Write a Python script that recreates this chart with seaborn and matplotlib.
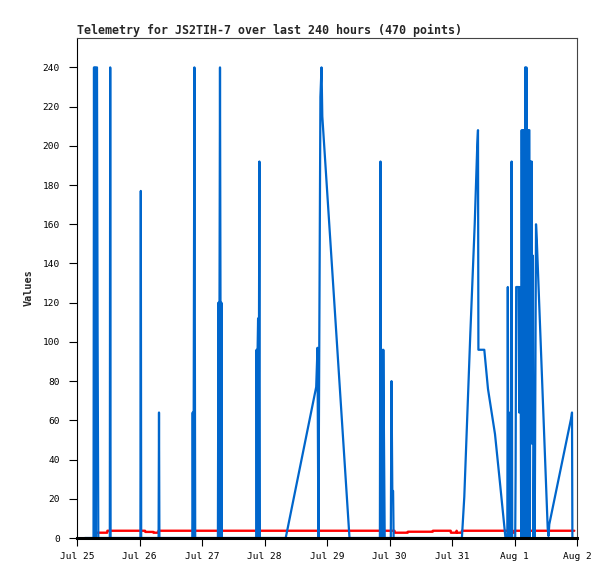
import matplotlib
matplotlib.use("Agg")
import matplotlib.pyplot as plt
import seaborn as sns
import pandas as pd

# ---- data (hours since Jul 25 00:00) ----
blue_hours = [3.0, 6.34, 6.53, 6.76, 6.99, 7.22, 7.45, 7.68, 7.91, 8.18,
              12.60, 12.75, 12.90,
              24.35, 24.50, 24.65,
              31.33, 31.49, 31.64,
              44.28, 44.43, 44.62, 44.81, 45.08, 45.39,
              54.11, 54.30, 54.53, 54.72, 54.91, 55.10, 55.30, 55.45, 55.60,
              68.81, 68.97, 69.16, 69.35, 69.54, 69.74, 69.89, 70.04, 70.23,
              80.14, 91.85, 92.35, 92.70, 93.08, 93.47, 93.89, 94.20, 104.64,
              116.31, 116.54, 116.81, 117.08, 117.35, 117.62, 117.89, 118.16,
              120.50, 120.77, 121.08, 121.38, 121.58,
              147.80, 148.72, 151.03, 152.72, 153.72, 153.98, 154.14, 156.40,
              157.82, 160.51, 162.43, 164.54,
              165.24, 165.43, 165.66, 165.85, 166.04,
              166.66, 166.89, 167.12,
              168.27, 168.42, 168.65, 169.54, 169.80, 170.07, 170.34,
              170.57, 170.76, 171.00, 171.23, 171.46, 171.69, 171.88,
              172.11, 172.34, 172.57, 172.80, 173.03, 173.26, 173.49, 173.72,
              173.91, 174.14, 174.37, 174.60, 174.83, 175.06, 175.30, 175.53,
              175.76, 176.26, 176.56, 180.75, 181.06, 181.36, 189.89, 190.08,
              190.23, 190.85]
blue_values = [0, 0, 240, 0, 240, 0, 240, 240, 104, 0,
               0, 240, 0,
               0, 177, 0,
               0, 64, 0,
               0, 64, 0, 64, 240, 0,
               0, 120, 0, 120, 240, 120, 0, 120, 0,
               0, 96, 0, 96, 112, 0, 112, 192, 0,
               0, 77, 97, 0, 112, 225, 240, 215, 0,
               0, 192, 0, 96, 0, 96, 48, 0,
               0, 80, 24, 24, 0,
               0, 21, 104, 160, 201, 208, 96, 96,
               76, 53, 28, 0,
               0, 128, 0, 64, 0,
               0, 192, 0,
               0, 32, 128, 128, 64, 128, 96,
               0, 208, 0, 208, 160, 208, 0,
               240, 0, 240, 0, 208, 0, 208, 208,
               0, 192, 144, 192, 48, 144, 0, 48,
               0, 160, 152, 5, 1, 7, 62, 64,
               0, 0]

red_hours = [7.30, 11.60, 11.67, 26.11, 26.23, 29.30, 29.38, 31.22, 31.30,
             121.92, 122.00, 126.99, 127.07, 136.59, 136.67, 143.50, 143.58,
             145.69, 145.77, 145.92, 147.72, 147.80, 167.27, 167.35, 167.81,
             167.88, 190.97]
red_values = [2.7, 2.7, 3.7, 3.7, 3.1, 3.1, 2.7, 2.7, 3.7,
              3.7, 2.7, 2.7, 3.2, 3.2, 3.7, 3.7, 2.7,
              2.7, 3.7, 2.7, 2.7, 3.7, 3.7, 2.7, 2.7,
              3.7, 3.7]

tick_hours = [0, 24, 48, 72, 96, 120, 144, 168, 192]
tick_labels = ["Jul 25", "Jul 26", "Jul 27", "Jul 28", "Jul 29",
               "Jul 30", "Jul 31", "Aug 1", "Aug 2"]
y_ticks = list(range(0, 241, 20))
title = "Telemetry for JS2TIH-7 over last 240 hours (470 points)"

# ---- plot ----
sns.set_style("white")
plt.rcParams['font.family'] = ['DejaVu Sans Mono', 'DejaVu Sans']

fig = plt.figure(figsize=(6.15, 5.79), dpi=100)
ax = fig.add_axes([77/615, 41/579, 500/615, 500/579])

red_df = pd.DataFrame({"hours": red_hours, "value": red_values})
blue_df = pd.DataFrame({"hours": blue_hours, "value": blue_values})

sns.lineplot(data=red_df, x="hours", y="value", ax=ax, color="#FF0000",
             linewidth=1.7, estimator=None, sort=False, zorder=2)
sns.lineplot(data=blue_df, x="hours", y="value", ax=ax, color="#0066CC",
             linewidth=1.6, estimator=None, sort=False, zorder=3)

ax.set_xlim(0, 192)
ax.set_ylim(0, 255)
ax.set_xticks(tick_hours)
ax.set_xticklabels(tick_labels)
ax.set_yticks(y_ticks)
ax.tick_params(axis="x", direction="out", length=5.5, width=0.8,
               colors="black", labelsize=6.8, pad=4.5, bottom=True)
ax.tick_params(axis="y", direction="out", length=6, width=0.8,
               colors="black", labelsize=6.8, pad=6.5, left=True)
ax.set_xlabel("")
ax.set_ylabel("Values", fontsize=7.3, fontweight="bold", labelpad=6.5)
ax.set_title(title, loc="left", fontsize=8.33, fontweight="bold", pad=3)

for side in ["top", "right"]:
    ax.spines[side].set_visible(True)
    ax.spines[side].set_color("#444444")
    ax.spines[side].set_linewidth(0.8)
ax.spines["left"].set_color("black")
ax.spines["left"].set_linewidth(0.8)
ax.spines["bottom"].set_color("black")
ax.spines["bottom"].set_linewidth(2.2)
ax.spines["bottom"].set_zorder(5)

fig.savefig("out.png", dpi=100)
